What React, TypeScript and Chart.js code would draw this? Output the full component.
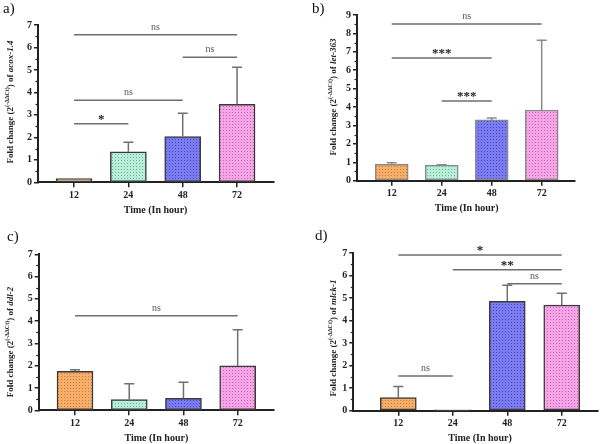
import React, { useEffect, useRef } from 'react';
import { Chart, registerables } from 'chart.js';
Chart.register(...registerables);

// ---------- data ----------
const categories = ['12', '24', '48', '72'];

const acoxMean = [0.16, 1.36, 2.03, 3.47];
const acoxSD = [0.0, 0.42, 1.04, 1.65];
const acoxBrackets = [
  { from: 0, to: 3, y: 6.57, label: 'ns' },
  { from: 2, to: 3, y: 5.56, label: 'ns' },
  { from: 0, to: 2, y: 3.65, label: 'ns' },
  { from: 0, to: 1, y: 2.61, label: '*' },
];

const let363Mean = [0.89, 0.85, 3.3, 3.84];
const let363SD = [0.09, 0.02, 0.1, 3.79];
const let363Brackets = [
  { from: 0, to: 3, y: 8.51, label: 'ns' },
  { from: 0, to: 2, y: 6.66, label: '***' },
  { from: 1, to: 2, y: 4.33, label: '***' },
];

const ddl2Mean = [1.75, 0.48, 0.54, 1.99];
const ddl2SD = [0.07, 0.71, 0.72, 1.63];
const ddl2Brackets = [{ from: 0, to: 3, y: 4.24, label: 'ns' }];

const mlck1Mean = [0.58, 0.02, 4.86, 4.69];
const mlck1SD = [0.49, 0.0, 0.71, 0.52];
const mlck1Brackets = [
  { from: 0, to: 3, y: 6.91, label: '*' },
  { from: 1, to: 3, y: 6.26, label: '**' },
  { from: 2, to: 3, y: 5.64, label: 'ns' },
  { from: 0, to: 1, y: 1.54, label: 'ns' },
];

const barColors = ['#F6AE68', '#B6EED8', '#7B7BF2', '#F6A6E6'];
const dotColors = ['#C57E3E', '#72B39C', '#4646BE', '#C664B4'];

const FONT = '"Liberation Serif", "Times New Roman", serif';

// ---------- layout ----------
const W = 300;
const H = 222;
const Y_W = 25;
const X_H = 22;

type Bracket = { from: number; to: number; y: number; label: string };
type Panel = {
  tag: string;
  gene: string;
  means: number[];
  sds: number[];
  brackets: Bracket[];
  yMax: number;
  left: number; right: number; top: number; bottom: number;
  xMin: number; xMax: number;
  barW: number;
  border: string;
  err: string;
  titleX: number; titleY: number;
  tagX: number; tagY: number;
  pos: [number, number];
};

const panels: Panel[] = [
  {
    tag: 'a)', gene: 'acox-1.4', means: acoxMean, sds: acoxSD, brackets: acoxBrackets, yMax: 7,
    left: 38, right: 274, top: 25, bottom: 182.3, xMin: -0.663, xMax: 3.68, barW: 36,
    border: '#3a3a3a', err: '#707070', titleX: 10, titleY: 102, tagX: 3, tagY: 13, pos: [0, 0],
  },
  {
    tag: 'b)', gene: 'let-363', means: let363Mean, sds: let363SD, brackets: let363Brackets, yMax: 9,
    left: 57, right: 275, top: 15, bottom: 180.7, xMin: -0.694, xMax: 3.666, barW: 33,
    border: '#8a8a8a', err: '#8a8a8a', titleX: 33, titleY: 97, tagX: 12, tagY: 13, pos: [300, 0],
  },
  {
    tag: 'c)', gene: 'ddl-2', means: ddl2Mean, sds: ddl2SD, brackets: ddl2Brackets, yMax: 7,
    left: 38.7, right: 274, top: 32.3, bottom: 188.3, xMin: -0.67, xMax: 3.67, barW: 36,
    border: '#3a3a3a', err: '#707070', titleX: 10, titleY: 120, tagX: 7, tagY: 19, pos: [0, 222],
  },
  {
    tag: 'd)', gene: 'mlck-1', means: mlck1Mean, sds: mlck1SD, brackets: mlck1Brackets, yMax: 7,
    left: 53.3, right: 297.7, top: 31, bottom: 188.7, xMin: -0.826, xMax: 3.66, barW: 36,
    border: '#3a3a3a', err: '#707070', titleX: 33, titleY: 116, tagX: 15, tagY: 18, pos: [300, 222],
  },
];

function makePattern(ctx: CanvasRenderingContext2D, base: string, dot: string) {
  const c = document.createElement('canvas');
  c.width = 3;
  c.height = 3;
  const g = c.getContext('2d')!;
  g.fillStyle = base;
  g.fillRect(0, 0, 3, 3);
  g.fillStyle = dot;
  g.fillRect(1, 1, 1, 1);
  return ctx.createPattern(c, 'repeat') as CanvasPattern;
}

function makeOverlay(p: Panel) {
  return {
    id: 'overlay',
    afterDatasetsDraw(chart: any) {
      const { ctx } = chart;
      const x = chart.scales.x;
      const y = chart.scales.y;
      ctx.save();
      ctx.strokeStyle = p.err;
      ctx.lineWidth = 1.5;
      p.means.forEach((m, i) => {
        const sd = p.sds[i];
        if (!sd) return;
        const px = x.getPixelForValue(i);
        const y0 = y.getPixelForValue(m);
        const y1 = y.getPixelForValue(m + sd);
        ctx.beginPath();
        ctx.moveTo(px, y0);
        ctx.lineTo(px, y1);
        ctx.moveTo(px - 5, y1);
        ctx.lineTo(px + 5, y1);
        ctx.stroke();
      });
      p.brackets.forEach((b) => {
        const x0 = x.getPixelForValue(b.from);
        const x1 = x.getPixelForValue(b.to);
        const py = y.getPixelForValue(b.y);
        ctx.strokeStyle = '#6e6e6e';
        ctx.lineWidth = 1.5;
        ctx.beginPath();
        ctx.moveTo(x0, py);
        ctx.lineTo(x1, py);
        ctx.stroke();
        const cx = (x0 + x1) / 2;
        ctx.textAlign = 'center';
        ctx.textBaseline = 'alphabetic';
        if (b.label === 'ns') {
          ctx.font = `10px ${FONT}`;
          ctx.fillStyle = '#555';
          ctx.fillText(b.label, cx, py - 5);
        } else {
          ctx.font = `bold 13px ${FONT}`;
          ctx.fillStyle = '#222';
          ctx.fillText(b.label, cx, py - 1);
        }
      });
      ctx.restore();
    },
    afterDraw(chart: any) {
      const { ctx, chartArea } = chart;
      const x = chart.scales.x;
      const y = chart.scales.y;
      ctx.save();
      ctx.strokeStyle = '#222';
      ctx.lineWidth = 1.2;
      for (let v = 0.5; v < p.yMax; v += 1) {
        const py = Math.round(y.getPixelForValue(v)) + 0.5;
        ctx.beginPath();
        ctx.moveTo(chartArea.left - 2.5, py);
        ctx.lineTo(chartArea.left, py);
        ctx.stroke();
      }
      ctx.fillStyle = '#222';
      ctx.font = `bold 10px ${FONT}`;
      ctx.textAlign = 'center';
      ctx.textBaseline = 'middle';
      ctx.fillText('Time (In hour)', x.getPixelForValue(1.5), chartArea.bottom + 28);
      const pieces = [
        { t: 'Fold change (2', f: `bold 9px ${FONT}`, dy: 0 },
        { t: '(-ΔΔCt)', f: `bold 6px ${FONT}`, dy: -3.5 },
        { t: ') of ', f: `bold 9px ${FONT}`, dy: 0 },
        { t: p.gene, f: `italic bold 9px ${FONT}`, dy: 0 },
      ];
      let total = 0;
      pieces.forEach((pc) => {
        ctx.font = pc.f;
        total += ctx.measureText(pc.t).width;
      });
      ctx.translate(p.titleX, p.titleY);
      ctx.rotate(-Math.PI / 2);
      ctx.textAlign = 'left';
      ctx.textBaseline = 'middle';
      let cx = -total / 2;
      pieces.forEach((pc) => {
        ctx.font = pc.f;
        ctx.fillText(pc.t, cx, pc.dy + 1);
        cx += ctx.measureText(pc.t).width;
      });
      ctx.setTransform(1, 0, 0, 1, 0, 0);
      ctx.font = `15px ${FONT}`;
      ctx.fillStyle = '#111';
      ctx.textAlign = 'left';
      ctx.textBaseline = 'alphabetic';
      ctx.fillText(p.tag, p.tagX, p.tagY);
      ctx.restore();
    },
  };
}

function PanelChart({ p }: { p: Panel }) {
  const ref = useRef<HTMLCanvasElement>(null);
  useEffect(() => {
    const canvas = ref.current!;
    const ctx = canvas.getContext('2d')!;
    const patterns = barColors.map((c, i) => makePattern(ctx, c, dotColors[i]));
    const chart = new Chart(ctx, {
      type: 'bar',
      data: {
        datasets: [
          {
            data: p.means.map((m, i) => ({ x: i, y: m })),
            backgroundColor: patterns,
            borderColor: p.border,
            borderWidth: 1.5,
            borderSkipped: false,
            barThickness: p.barW,
          } as any,
        ],
      },
      options: {
        responsive: false,
        animation: false,
        events: [],
        devicePixelRatio: 1,
        layout: {
          padding: {
            left: p.left - Y_W,
            right: W - p.right,
            top: p.top,
            bottom: H - p.bottom - X_H,
          },
        },
        plugins: { legend: { display: false }, tooltip: { enabled: false } },
        scales: {
          x: {
            type: 'linear',
            offset: false,
            bounds: 'data',
            min: p.xMin,
            max: p.xMax,
            afterBuildTicks: (s: any) => {
              s.ticks = categories.map((_, i) => ({ value: i }));
            },
            afterFit: (s: any) => {
              s.height = X_H;
            },
            ticks: {
              callback: (v: any) => categories[Math.round(Number(v))] ?? '',
              font: { family: FONT, size: 10, weight: 'bold' },
              color: '#222',
              padding: 2,
              maxRotation: 0,
              autoSkip: false,
            },
            grid: { offset: false, drawOnChartArea: false, drawTicks: true, tickLength: 5, color: '#222', lineWidth: 1.5 },
            border: { display: true, color: '#222', width: 2 },
          },
          y: {
            type: 'linear',
            min: 0,
            max: p.yMax,
            afterFit: (s: any) => {
              s.width = Y_W;
            },
            ticks: {
              stepSize: 1,
              font: { family: FONT, size: 10, weight: 'bold' },
              color: '#222',
              padding: 2,
            },
            grid: { drawOnChartArea: false, drawTicks: true, tickLength: 4, color: '#222', lineWidth: 1.5 },
            border: { display: true, color: '#222', width: 2 },
          },
        },
      } as any,
      plugins: [makeOverlay(p)],
    });
    return () => chart.destroy();
  }, [p]);
  return (
    <div style={{ position: 'absolute', left: p.pos[0], top: p.pos[1], width: W, height: H }}>
      <canvas ref={ref} width={W} height={H} style={{ display: 'block', width: W, height: H }} />
    </div>
  );
}

export default function App() {
  return (
    <div style={{ position: 'absolute', left: 0, top: 0, width: 600, height: 444, background: '#fff', overflow: 'hidden' }}>
      {panels.map((p) => (
        <PanelChart key={p.tag} p={p} />
      ))}
    </div>
  );
}
